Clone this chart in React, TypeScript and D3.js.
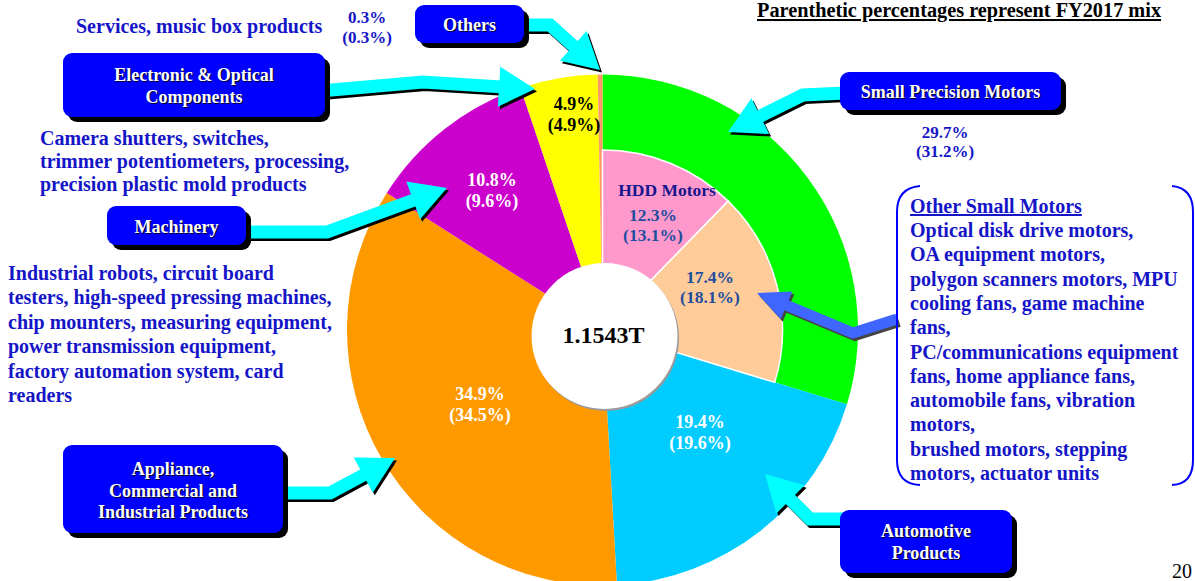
import React from "react";
import * as d3 from "d3";

// ---------- data ----------
const segments = [
  "Small Precision Motors",
  "Automotive Products",
  "Appliance, Commercial and Industrial Products",
  "Machinery",
  "Electronic & Optical Components",
  "Others",
];
const fy2018Mix = [29.7, 19.4, 34.9, 10.8, 4.9, 0.3];
const fy2017Mix = [31.2, 19.6, 34.5, 9.6, 4.9, 0.3];
const segmentColors = ["#00FF00", "#00CCFF", "#FF9900", "#CC00CC", "#FFFF00", "#FF9966"];

const subSegments = ["HDD Motors", "Other Small Motors"];
const sub2018Mix = [12.3, 17.4];
const sub2017Mix = [13.1, 18.1];
const subColors = ["#FF99CC", "#FFCC99"];

const totalLabel = "1.1543T";
const titleText = "Parenthetic percentages represent FY2017 mix";
const pageNumber = "20";

const othersDesc = ["Services, music box products"];
const electronicDesc = [
  "Camera shutters, switches,",
  "trimmer potentiometers, processing,",
  "precision plastic mold products",
];
const machineryDesc = [
  "Industrial robots, circuit board",
  "testers, high-speed pressing machines,",
  "chip mounters, measuring equipment,",
  "power transmission equipment,",
  "factory automation system, card",
  "readers",
];
const otherSmallDesc = [
  "Optical disk drive motors,",
  "OA equipment motors,",
  "polygon scanners motors, MPU",
  "cooling fans, game machine",
  "fans,",
  "PC/communications equipment",
  "fans, home appliance fans,",
  "automobile fans, vibration",
  "motors,",
  "brushed motors, stepping",
  "motors, actuator units",
];

// ---------- layout ----------
const W = 1195;
const H = 581;
const CX = 602.5;
const CY = 330;
const R = 255.5;
const SUB_R = 180;
const FONT = "'Liberation Serif', 'Times New Roman', Times, serif";
const BLUE_TEXT = "#1515C8";

type Pt = [number, number];

const boxes: { lines: string[]; x: number; y: number; w: number; h: number; base: number }[] = [
  { lines: ["Others"], x: 415, y: 5, w: 109, h: 38, base: 31 },
  { lines: ["Electronic & Optical", "Components"], x: 63, y: 53, w: 262, h: 64, base: 81 },
  { lines: ["Small Precision Motors"], x: 840, y: 72, w: 221, h: 38, base: 98 },
  { lines: ["Machinery"], x: 107, y: 206, w: 139, h: 39, base: 233 },
  { lines: ["Appliance,", "Commercial and", "Industrial Products"], x: 63, y: 445, w: 220, h: 88, base: 475 },
  { lines: ["Automotive", "Products"], x: 840, y: 510, w: 172, h: 63, base: 537 },
];

const cyanArrows: Pt[][] = [
  [[520, 25], [550, 25], [600, 70]],
  [[320, 91], [423, 82], [535, 89]],
  [[240, 232], [327, 232], [447, 188]],
  [[278, 493], [330, 493], [395, 458]],
  [[845, 93], [803, 95], [728, 132]],
  [[845, 519], [810, 519], [765, 474]],
];
const blueArrow: Pt[] = [[897, 319], [853, 333], [757, 293]];

// label anchors for the pie
const segLabelPos: Pt[] = [
  [945, 138],
  [700, 428],
  [480, 400],
  [492, 186],
  [574, 110],
  [367, 23],
];
const subLabelPos: Pt[] = [
  [653, 221],
  [710, 283],
];

function arrowParts(pts: Pt[], headLen: number, headW: number) {
  const n = pts.length;
  const tip = pts[n - 1];
  const prev = pts[n - 2];
  const dx = tip[0] - prev[0];
  const dy = tip[1] - prev[1];
  const len = Math.hypot(dx, dy);
  const ux = dx / len;
  const uy = dy / len;
  const base: Pt = [tip[0] - ux * headLen, tip[1] - uy * headLen];
  const nx = -uy;
  const ny = ux;
  const line = d3.line();
  const shaft = line([...pts.slice(0, n - 1), [base[0] + ux * 2, base[1] + uy * 2]]) || "";
  const head =
    line([
      [base[0] + (nx * headW) / 2, base[1] + (ny * headW) / 2],
      tip,
      [base[0] - (nx * headW) / 2, base[1] - (ny * headW) / 2],
    ]) + "Z";
  return { shaft, head };
}

function FatArrow({ pts, color, shadow, w, headLen, headW }: { pts: Pt[]; color: string; shadow: string; w: number; headLen: number; headW: number }) {
  const { shaft, head } = arrowParts(pts, headLen, headW);
  return (
    <g>
      <g transform="translate(2,2.5)">
        <path d={shaft} fill="none" stroke={shadow} strokeWidth={w} strokeLinejoin="miter" />
        <path d={head} fill={shadow} />
      </g>
      <path d={shaft} fill="none" stroke={color} strokeWidth={w} strokeLinejoin="miter" />
      <path d={head} fill={color} />
    </g>
  );
}

export default function App() {
  const pieGen = d3
    .pie<number>()
    .sort(null)
    .value((d) => d)
    .startAngle(0)
    .endAngle(2 * Math.PI);
  const arcs = pieGen(fy2018Mix);
  const subArcs = d3
    .pie<number>()
    .sort(null)
    .value((d) => d)
    .startAngle(arcs[0].startAngle)
    .endAngle(arcs[0].endAngle)(sub2018Mix);

  const outerArc = d3.arc<d3.PieArcDatum<number>>().innerRadius(0).outerRadius(R);
  const subArc = d3.arc<d3.PieArcDatum<number>>().innerRadius(0).outerRadius(SUB_R);

  const segLabelColor = ["#1515C8", "#FFFFFF", "#FFFFFF", "#FFFFFF", "#000000", "#1515C8"];

  return (
    <svg
      width={W}
      height={H}
      viewBox={`0 0 ${W} ${H}`}
      style={{ position: "absolute", left: 0, top: 0, background: "#fff" }}
      fontFamily={FONT}
    >
      {/* pie */}
      <g transform={`translate(${CX},${CY})`}>
        {arcs.map((a, i) => (
          <path key={segments[i]} d={outerArc(a) || ""} fill={segmentColors[i]} />
        ))}
        {subArcs.map((a, i) => (
          <path key={subSegments[i]} d={subArc(a) || ""} fill={subColors[i]} stroke="#FFFFFF" strokeWidth={1.5} />
        ))}
      </g>
      {/* center hole */}
      <circle cx={CX + 3.5} cy={CY + 8} r={73} fill="#9a9a9a" />
      <circle cx={CX + 2} cy={CY + 6} r={73} fill="#FFFFFF" />
      <text x={CX + 1} y={343} textAnchor="middle" fontSize={24} fontWeight="bold" fill="#000">
        {totalLabel}
      </text>

      {/* segment labels */}
      {fy2018Mix.map((v, i) => {
        const [lx, ly] = segLabelPos[i];
        const fs = i === 0 || i === 5 ? 17 : 18;
        const lh = i === 5 ? 20 : i === 0 ? 19 : 21;
        return (
          <text key={"l" + i} x={lx} y={ly} textAnchor="middle" fontSize={fs} fontWeight="bold" fill={segLabelColor[i]}>
            <tspan x={lx}>{v.toFixed(1)}%</tspan>
            <tspan x={lx} dy={lh}>({fy2017Mix[i].toFixed(1)}%)</tspan>
          </text>
        );
      })}
      <text x={667} y={196} textAnchor="middle" fontSize={17.5} fontWeight="bold" fill="#16168F">
        {subSegments[0]}
      </text>
      {sub2018Mix.map((v, i) => {
        const [lx, ly] = subLabelPos[i];
        return (
          <text key={"s" + i} x={lx} y={ly} textAnchor="middle" fontSize={17.5} fontWeight="bold" fill="#1F4E9E">
            <tspan x={lx}>{v.toFixed(1)}%</tspan>
            <tspan x={lx} dy={20}>({sub2017Mix[i].toFixed(1)}%)</tspan>
          </text>
        );
      })}

      {/* arrows */}
      {cyanArrows.map((pts, i) => (
        <FatArrow key={"a" + i} pts={pts} color="#00FFFF" shadow="#000000" w={13} headLen={36} headW={40} />
      ))}
      <FatArrow pts={blueArrow} color="#3F66FF" shadow="#444444" w={11} headLen={32} headW={30} />

      {/* boxes */}
      {boxes.map((b, i) => (
        <g key={"b" + i}>
          <rect x={b.x + 5} y={b.y + 5} width={b.w} height={b.h} rx={9} fill="#000" />
          <rect x={b.x} y={b.y} width={b.w} height={b.h} rx={9} fill="#0000FF" />
          {b.lines.map((ln, j) => (
            <g key={j}>
              <text x={b.x + b.w / 2 + 1.3} y={b.base + j * 21.5 + 1.3} textAnchor="middle" fontSize={18} fontWeight="bold" fill="#000033">
                {ln}
              </text>
              <text x={b.x + b.w / 2} y={b.base + j * 21.5} textAnchor="middle" fontSize={18} fontWeight="bold" fill="#FFFFFF">
                {ln}
              </text>
            </g>
          ))}
        </g>
      ))}

      {/* title */}
      <text x={757} y={17} fontSize={20.3} fontWeight="bold" fill="#000" textDecoration="underline">
        {titleText}
      </text>

      {/* descriptions */}
      <text x={76} y={33} fontSize={20} fontWeight="bold" fill={BLUE_TEXT}>
        {othersDesc[0]}
      </text>
      <text fontSize={20} fontWeight="bold" fill={BLUE_TEXT}>
        {electronicDesc.map((ln, i) => (
          <tspan key={i} x={40} y={145 + i * 23}>
            {ln}
          </tspan>
        ))}
      </text>
      <text fontSize={20} fontWeight="bold" fill={BLUE_TEXT}>
        {machineryDesc.map((ln, i) => (
          <tspan key={i} x={8} y={280 + i * 24.4}>
            {ln}
          </tspan>
        ))}
      </text>

      {/* other small motors bracket */}
      <path d="M 920 186 Q 897 188 897 212 L 897 460 Q 897 484 920 485" fill="none" stroke="#0000FF" strokeWidth={2} />
      <path d="M 1172 186 Q 1193 188 1193 212 L 1193 460 Q 1193 484 1172 485" fill="none" stroke="#0000FF" strokeWidth={2} />
      <text x={910} y={213} fontSize={20} fontWeight="bold" fill={BLUE_TEXT} textDecoration="underline">
        {subSegments[1]}
      </text>
      <text fontSize={20} fontWeight="bold" fill={BLUE_TEXT}>
        {otherSmallDesc.map((ln, i) => (
          <tspan key={i} x={910} y={237 + i * 24.3}>
            {ln}
          </tspan>
        ))}
      </text>

      {/* page number */}
      <text x={1172} y={578} fontSize={20} fill="#000">
        {pageNumber}
      </text>
    </svg>
  );
}
